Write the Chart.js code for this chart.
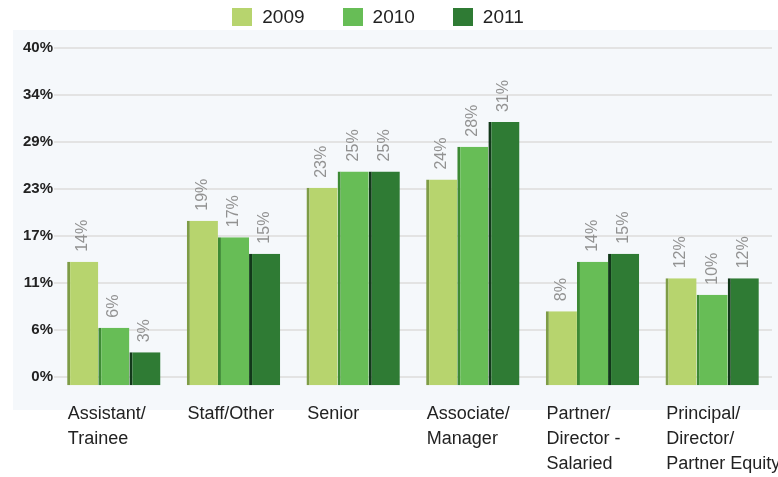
<!DOCTYPE html>
<html>
<head>
<meta charset="utf-8">
<script src="https://cdn.jsdelivr.net/npm/chart.js@4/dist/chart.umd.min.js"></script>
<style>
  html, body { margin: 0; padding: 0; background: #fff; }
  #wrap { position: relative; width: 778px; height: 477px; }
  #legend {
    position: absolute; top: 6px; left: -11px; width: 778px;
    display: flex; justify-content: center;
    font: 19px "Liberation Sans", Arial, sans-serif; color: #222;
  }
  .item { display: flex; align-items: center; margin: 0 19px; }
  .box { width: 20px; height: 18px; margin-right: 10px; }
  canvas { position: absolute; top: 0; left: 0; }
</style>
</head>
<body>
<div id="wrap">
  <canvas id="myChart" width="778" height="477"></canvas>
  <div id="legend"></div>
</div>
<script>
const categories = [
  ["Assistant/", "Trainee"],
  ["Staff/Other"],
  ["Senior"],
  ["Associate/", "Manager"],
  ["Partner/", "Director -", "Salaried"],
  ["Principal/", "Director/", "Partner Equity"]
];
const years = ["2009", "2010", "2011"];
const values2009 = [14, 19, 23, 24, 8, 12];
const values2010 = [6, 17, 25, 28, 14, 10];
const values2011 = [3, 15, 25, 31, 15, 12];
const tickLabels = ["0%", "6%", "11%", "17%", "23%", "29%", "34%", "40%"];
const axisMax = 40;

const fills = ["#b7d46e", "#67bd56", "#2f7b34"];
const edges = ["#7e9c46", "#3d8a34", "#12381a"];

// light panel behind the plot
const panel = {
  id: "panel",
  beforeDraw(chart) {
    let a = chart.chartArea;
    let ctx = chart.ctx;
    ctx.save();
    ctx.fillStyle = "#f5f8fb";
    ctx.fillRect(a.left - 41, a.top - 18, chart.width - (a.left - 41), a.bottom - a.top + 51);
    ctx.restore();
  }
};

// rotated value labels over each bar
const barLabels = {
  id: "barLabels",
  afterDatasetsDraw(chart) {
    let ctx = chart.ctx;
    ctx.save();
    ctx.font = '16px "Liberation Sans", Arial, sans-serif';
    ctx.fillStyle = "#929292";
    ctx.textAlign = "left";
    ctx.textBaseline = "middle";
    chart.data.datasets.forEach(function (ds, i) {
      chart.getDatasetMeta(i).data.forEach(function (bar, j) {
        ctx.save();
        ctx.translate(bar.x, bar.y - 10);
        ctx.rotate(-Math.PI / 2);
        ctx.fillText(ds.data[j] + "%", 0, 0);
        ctx.restore();
      });
    });
    ctx.restore();
  }
};

function makeSet(i, data) {
  return {
    label: years[i],
    data: data,
    backgroundColor: fills[i],
    borderColor: edges[i],
    borderWidth: { left: 3, top: 0, right: 0, bottom: 0 },
    borderSkipped: false,
    base: -1,
    clip: false,
    barPercentage: 1,
    categoryPercentage: 0.78
  };
}

const ctx = document.getElementById("myChart").getContext("2d");
const myChart = new Chart(ctx, {
  type: "bar",
  data: {
    labels: categories,
    datasets: [makeSet(0, values2009), makeSet(1, values2010), makeSet(2, values2011)]
  },
  options: {
    responsive: false,
    animation: false,
    devicePixelRatio: 1,
    layout: { padding: { top: 48, right: 6, left: 0, bottom: 0 } },
    plugins: {
      legend: { display: false },
      tooltip: { enabled: false }
    },
    scales: {
      x: {
        grid: { display: false, drawTicks: false },
        border: { display: false },
        afterFit: function (scale) {
          scale.height = 100;
          scale.paddingLeft = 0;
          scale.paddingRight = 0;
        },
        ticks: {
          align: "start",
          labelOffset: -46,
          padding: 25,
          maxRotation: 0,
          autoSkip: false,
          color: "#222",
          font: { family: '"Liberation Sans", Arial, sans-serif', size: 18, lineHeight: "25px" }
        }
      },
      y: {
        min: 0,
        max: axisMax,
        grid: { color: "#e3e3e3", lineWidth: 2, drawTicks: false },
        border: { display: false },
        afterFit: function (scale) { scale.width = 54; },
        afterBuildTicks: function (scale) {
          let n = tickLabels.length - 1;
          scale.ticks = tickLabels.map(function (t, i) { return { value: axisMax * i / n }; });
        },
        ticks: {
          padding: 1,
          color: "#222",
          font: { family: '"Liberation Sans", Arial, sans-serif', size: 15, weight: "bold" },
          callback: function (v, i) { return tickLabels[i]; }
        }
      }
    }
  },
  plugins: [panel, barLabels]
});

// html legend built from the datasets
let legend = document.getElementById("legend");
myChart.data.datasets.forEach(function (ds) {
  let item = document.createElement("div");
  item.className = "item";
  item.innerHTML = '<span class="box" style="background:' + ds.backgroundColor + '"></span>' + ds.label;
  legend.appendChild(item);
});
</script>
</body>
</html>
